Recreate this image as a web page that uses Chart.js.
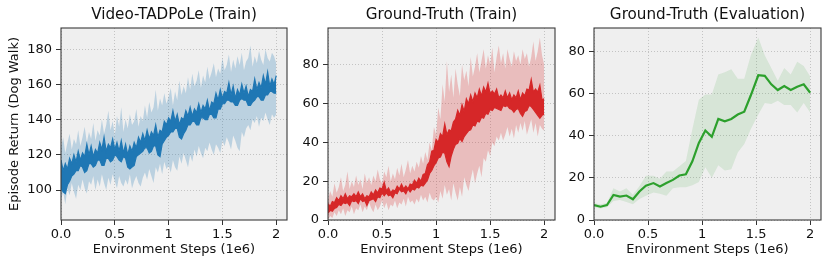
<!DOCTYPE html>
<html>
<head>
<meta charset="utf-8">
<script src="https://cdn.jsdelivr.net/npm/chart.js@4.4.1/dist/chart.umd.min.js"></script>
<style>
  html, body { margin: 0; padding: 0; background: #fff; }
  #wrap { position: relative; width: 831px; height: 269px; }
  #wrap canvas { position: absolute; left: 0; top: 0; }
</style>
</head>
<body>
<div id="wrap">
  <canvas id="c1" width="831" height="269"></canvas>
  <canvas id="c2" width="831" height="269"></canvas>
  <canvas id="c3" width="831" height="269"></canvas>
</div>
<script>
// x ticks shared by all three panels (environment steps, 1e6)
const xTickValues = [0, 0.5, 1, 1.5, 2];
const xTickLabels = ['0.0', '0.5', '1', '1.5', '2'];

// training curves are logged every 0.02e6 steps
const trainSteps = [0,0.02,0.04,0.06,0.08,0.1,0.12,0.14,0.16,0.18,0.2,0.22,0.24,0.26,0.28,0.3,0.32,0.34,0.36,0.38,
  0.4,0.42,0.44,0.46,0.48,0.5,0.52,0.54,0.56,0.58,0.6,0.62,0.64,0.66,0.68,0.7,0.72,0.74,0.76,0.78,
  0.8,0.82,0.84,0.86,0.88,0.9,0.92,0.94,0.96,0.98,1,1.02,1.04,1.06,1.08,1.1,1.12,1.14,1.16,1.18,
  1.2,1.22,1.24,1.26,1.28,1.3,1.32,1.34,1.36,1.38,1.4,1.42,1.44,1.46,1.48,1.5,1.52,1.54,1.56,1.58,
  1.6,1.62,1.64,1.66,1.68,1.7,1.72,1.74,1.76,1.78,1.8,1.82,1.84,1.86,1.88,1.9,1.92,1.94,1.96,1.98,2];

// Video-TADPoLe (Train): dark = noisy mean curve (upper/lower edge), light = seed spread
const videoDarkHi = [117,111,115,112,118,115,120,116,122,117,121,119,126,120,125,119,123,121,127,123,
  130,122,126,124,129,123,127,122,128,121,126,120,125,122,127,124,130,127,132,128,
  134,129,133,131,137,130,134,133,139,137,141,139,145,139,143,137,141,140,145,142,
  147,142,146,144,149,144,148,146,151,145,150,149,155,151,157,152,156,155,161,154,
  159,152,157,154,160,155,159,153,157,156,163,157,161,158,165,160,167,159,163,160,165];
const videoDarkLo = [101,99,98,103,105,108,109,111,111,114,113,110,111,115,115,113,114,117,117,114,
  114,118,118,116,117,120,119,117,116,119,118,113,112,113,114,119,120,121,122,124,
  124,121,122,125,125,120,119,126,128,130,131,133,133,135,135,130,129,132,134,137,
  137,139,139,137,137,141,141,140,140,143,143,141,141,146,146,149,149,151,151,150,
  150,148,148,151,152,151,151,148,148,150,151,153,153,151,151,154,154,156,156,155,155];
const videoLightLo = [94,99,92,101,97,104,99,95,103,100,106,101,98,105,103,108,100,106,102,109,
  104,100,107,103,109,105,101,108,104,102,106,103,109,101,105,108,104,102,107,110,
  106,112,108,104,113,110,115,109,116,112,114,110,117,113,111,119,115,121,117,113,
  120,116,123,119,125,121,118,124,122,127,123,120,126,124,121,128,125,130,127,123,
  131,128,124,122,133,130,135,137,134,140,138,142,136,141,139,144,140,137,143,141,143];
const videoLightHi = [124,130,121,127,132,123,129,126,134,125,130,136,127,133,129,138,128,134,131,140,
  132,137,145,134,139,131,142,136,147,133,140,135,143,137,139,146,136,142,139,148,
  141,150,144,147,157,145,152,148,155,149,153,158,148,156,151,162,154,159,155,164,
  157,166,159,162,168,158,165,161,170,163,167,172,164,169,166,175,168,171,177,167,
  174,169,176,171,178,168,173,175,182,170,176,172,179,174,171,180,175,173,178,176,172];

// Ground-Truth (Train)
const gtDarkHi = [8.5,7,9.5,9,11.5,10,12.5,11,13.5,11,12.5,12,13.5,12,14.5,12,13.5,11,12.5,12,
  14.5,13,15.5,14,16.5,16,19.5,15,16.5,14,15.5,15,17.5,16,18.5,16,17.5,16,18.5,18,
  20.5,19,21.5,20,23.5,24,28.5,30,35.5,36,41.5,40,44.5,43,49.5,44,46.5,46,50.5,52,
  56.5,54,59.5,56,62.5,60,64.5,61,65.5,63,67.5,64,68.5,66,70.5,65,66.5,65,67.5,63,
  64.5,63,66.5,63,65.5,62,64.5,63,66.5,62,65.5,64,67.5,67,72.5,66,67.5,66,69.5,62,62.5];
const gtDarkLo = [3.5,5,4.5,6,6.5,8,7.5,9,8.5,9,7.5,10,9.5,10,8.5,11,9.5,10,7.5,10,
  10.5,11,9.5,12,11.5,14,12.5,14,12.5,13,11.5,14,13.5,16,14.5,15,13.5,16,14.5,16,
  15.5,17,16.5,18,17.5,19,20.5,24,25.5,28,29.5,32,32.5,35,34.5,30,27.5,33,36.5,39,
  39.5,42,40.5,43,44.5,46,46.5,49,48.5,51,50.5,53,52.5,55,54.5,57,56.5,58,57.5,57,
  56.5,59,58.5,59,57.5,57,55.5,57,57.5,55,53.5,56,56.5,59,58.5,57,55.5,54,52.5,54,54.5];
const gtLightLo = [0,2,1,4,2,5,3,6,2,5,4,7,3,6,5,8,4,7,5,9,
  6,4,8,5,7,10,6,9,5,8,7,10,6,9,8,11,7,12,9,10,
  8,11,9,13,10,12,9,14,11,10,12,9,15,11,18,13,16,10,19,14,
  10,17,12,22,18,15,21,26,19,24,28,22,32,30,36,33,40,38,43,41,
  45,41,44,48,43,47,42,49,45,50,46,51,44,48,52,45,50,43,49,47,46];
const gtLightHi = [10,15,12,19,14,17,22,15,18,25,16,20,17,23,18,21,16,24,19,22,
  18,23,20,26,21,19,25,22,28,20,24,21,27,23,29,22,26,31,24,28,
  25,30,27,33,29,35,31,40,36,48,44,58,52,70,61,82,66,75,63,78,
  70,64,80,72,77,69,84,74,79,86,76,82,88,78,85,80,89,76,84,90,
  81,86,78,88,83,79,87,82,85,80,88,83,86,79,84,92,82,87,94,85,80];

// Ground-Truth (Evaluation)
const evalSteps = [0,0.06,0.12,0.18,0.24,0.3,0.36,0.42,0.48,0.55,0.61,0.67,0.73,0.79,0.85,0.91,0.97,
  1.03,1.09,1.15,1.21,1.27,1.33,1.39,1.45,1.52,1.58,1.64,1.7,1.76,1.82,1.88,1.94,2];
const evalMean = [7.1,6.3,7.1,11.9,11.1,11.6,9.8,13.5,16.3,17.5,15.9,17.5,19,21.1,21.7,27.8,36.5,
  42.4,39.4,47.9,46.8,47.9,50,51.3,59,68.6,68.3,64.3,61.6,63.5,61.6,63.2,64.3,60.3];
const evalHi = [7.9,7.5,8,15,13.5,15,12,16,21,21,19.5,23,23,25.5,28,43,57,
  59.5,59.5,69,70,71.4,67,67,78,86.5,78,72,66,72,69,75,73,68];
const evalLo = [6,5.5,6,9,9.5,8.5,7.5,10,11.5,13,12.5,11.5,15,15.5,15.5,16.5,18,
  25,20,26,23.5,24,32,36,43,50,55.5,55,56.5,54.5,54.5,51,55.5,51];

const FONT = 'DejaVu Sans';
const pts = (xs, ys) => xs.map((x, i) => ({ x, y: ys[i] }));

// plot background + full box frame (matplotlib style spines)
const frame = {
  id: 'frame',
  beforeDraw(chart) {
    const a = chart.chartArea, ctx = chart.ctx;
    ctx.save();
    ctx.fillStyle = '#efefef';
    ctx.fillRect(a.left, a.top, a.right - a.left, a.bottom - a.top);
    ctx.restore();
  },
  afterDraw(chart) {
    const a = chart.chartArea, ctx = chart.ctx;
    ctx.save();
    ctx.strokeStyle = '#3a3a3a';
    ctx.lineWidth = 1.1;
    ctx.strokeRect(a.left, a.top, a.right - a.left, a.bottom - a.top);
    ctx.restore();
  }
};

function line(xs, ys, color, width) {
  return { data: pts(xs, ys), borderColor: color, borderWidth: width, pointRadius: 0, fill: false, tension: 0 };
}

// two datasets: lower edge, then upper edge filled down to it
function band(lo, hi, xs, color, width) {
  return [
    { data: pts(xs, lo), borderColor: color, backgroundColor: color, borderWidth: width, pointRadius: 0, fill: false },
    { data: pts(xs, hi), borderColor: color, backgroundColor: color, borderWidth: width, pointRadius: 0, fill: '-1' }
  ];
}

function panel(id, cfg) {
  const gridOpts = { color: '#b8b8b8', lineWidth: 0.8, tickLength: 5, tickColor: '#333', tickWidth: 1, tickBorderDash: [] };
  return new Chart(document.getElementById(id), {
    type: 'line',
    data: { datasets: cfg.datasets },
    options: {
      responsive: false, animation: false, devicePixelRatio: 1,
      layout: { padding: { left: cfg.left - cfg.yWidth, right: 831 - cfg.right, top: 0, bottom: 9 } },
      plugins: {
        legend: { display: false }, tooltip: { enabled: false },
        title: { display: true, text: cfg.title, fullSize: false, color: '#111',
                 font: { family: FONT, size: 15.2, weight: 'normal' }, padding: { top: 6, bottom: 3.76 } }
      },
      scales: {
        x: {
          type: 'linear', min: 0, max: 2.1,
          afterBuildTicks: s => { s.ticks = xTickValues.map(v => ({ value: v })); },
          afterFit: s => { s.height = 40; },
          grid: gridOpts,
          border: { display: false, dash: [1, 2] },
          ticks: { color: '#111', padding: 2, maxRotation: 0, font: { family: FONT, size: 13 },
                   callback: v => xTickLabels[xTickValues.indexOf(v)] },
          title: { display: true, text: 'Environment Steps (1e6)', color: '#111', padding: { top: 0, bottom: 3 },
                   font: { family: FONT, size: 13 } }
        },
        y: {
          type: 'linear', min: cfg.yMin, max: cfg.yMax,
          afterBuildTicks: s => { s.ticks = cfg.yTicks.map(v => ({ value: v })); },
          afterFit: s => { s.width = cfg.yWidth; },
          grid: gridOpts,
          border: { display: false, dash: [1, 2] },
          ticks: { color: '#111', padding: 4, font: { family: FONT, size: 13 } },
          title: { display: !!cfg.yTitle, text: cfg.yTitle || '', color: '#111', padding: { top: 7, bottom: 0 },
                   font: { family: FONT, size: 13 } }
        }
      }
    },
    plugins: [frame]
  });
}

panel('c1', {
  title: 'Video-TADPoLe (Train)', yTitle: 'Episode Return (Dog Walk)',
  left: 61, right: 287, yWidth: 61, yMin: 83, yMax: 192, yTicks: [100, 120, 140, 160, 180],
  datasets: [
    ...band(videoDarkLo, videoDarkHi, trainSteps, '#1f77b4', 1.2),
    ...band(videoLightLo, videoLightHi, trainSteps, 'rgba(31,119,180,0.25)', 0)
  ]
});

panel('c2', {
  title: 'Ground-Truth (Train)',
  left: 328, right: 555, yWidth: 40, yMin: 0, yMax: 99, yTicks: [0, 20, 40, 60, 80],
  datasets: [
    ...band(gtDarkLo, gtDarkHi, trainSteps, '#d62728', 1.2),
    ...band(gtLightLo, gtLightHi, trainSteps, 'rgba(214,39,40,0.25)', 0)
  ]
});

panel('c3', {
  title: 'Ground-Truth (Evaluation)',
  left: 594, right: 821, yWidth: 40, yMin: 0, yMax: 91, yTicks: [0, 20, 40, 60, 80],
  datasets: [
    line(evalSteps, evalMean, '#2ca02c', 2.2),
    ...band(evalLo, evalHi, evalSteps, 'rgba(44,160,44,0.12)', 0)
  ]
});
</script>
</body>
</html>
